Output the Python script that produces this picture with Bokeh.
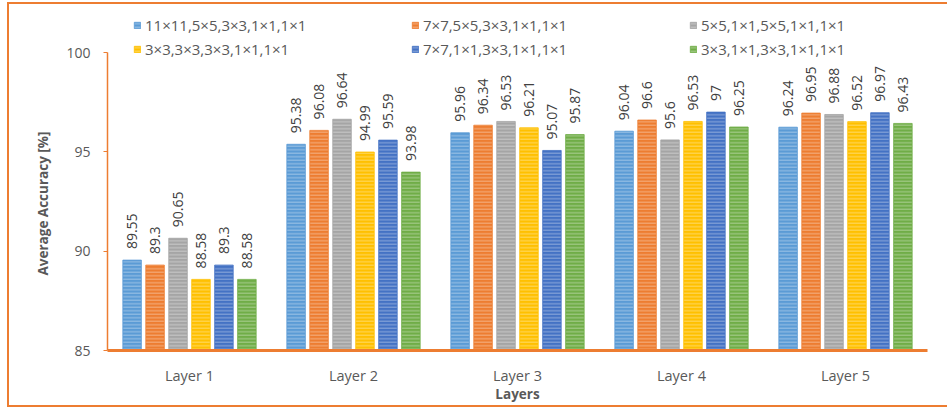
import numpy as np
from bokeh.plotting import figure
from bokeh.models import (ColumnDataSource, Range1d, FactorRange, Legend, LegendItem,
                          FixedTicker, Title)
from bokeh.transform import dodge
from bokeh.embed import file_html
from bokeh.resources import INLINE
from bokeh.core.properties import value

# Categories and series
layers = ["Layer 1", "Layer 2", "Layer 3", "Layer 4", "Layer 5"]
configs = [
    "11×11,5×5,3×3,1×1,1×1",
    "7×7,5×5,3×3,1×1,1×1",
    "5×5,1×1,5×5,1×1,1×1",
    "3×3,3×3,3×3,1×1,1×1",
    "7×7,1×1,3×3,1×1,1×1",
    "3×3,1×1,3×3,1×1,1×1",
]
acc_k11_5_3 = [89.55, 95.38, 95.96, 96.04, 96.24]
acc_k7_5_3 = [89.3, 96.08, 96.34, 96.6, 96.95]
acc_k5_1_5 = [90.65, 96.64, 96.53, 95.6, 96.88]
acc_k3_3_3 = [88.58, 94.99, 96.21, 96.53, 96.52]
acc_k7_1_3 = [89.3, 95.59, 95.07, 97, 96.97]
acc_k3_1_3 = [88.58, 93.98, 95.87, 96.25, 96.43]
y_ticks = [85, 90, 95, 100]

series = [acc_k11_5_3, acc_k7_5_3, acc_k5_1_5, acc_k3_3_3, acc_k7_1_3, acc_k3_1_3]
colors = ["#5B9BD5", "#ED7D31", "#A5A5A5", "#FFC000", "#4472C4", "#70AD47"]

FONT = "Open Sans"
ORANGE = "#ED7D31"
GREY_TXT = "#595959"

data = {"layer": layers}
for i, s in enumerate(series):
    data[f"s{i}"] = s
    data[f"l{i}"] = [f"{v:g}" for v in s]
src = ColumnDataSource(data)

# the frame reaches above 100 so the legend sits inside it; the axis stops at 100
y_top = 85 + 15 * 342 / 298

# orange chart border drawn as CSS background lines behind a transparent canvas
chart_border = {
    "background-color": "white",
    "background-image": ", ".join([f"linear-gradient({ORANGE}, {ORANGE})"] * 3),
    "background-position": "7px 2px, 7px 2px, 7px 405px",
    "background-size": "2px 405px, 940px 2px, 940px 2px",
    "background-repeat": "no-repeat",
}

p = figure(x_range=FactorRange(*layers, range_padding=0), y_range=Range1d(85, y_top),
           width=947, height=408, output_backend="svg", toolbar_location=None,
           min_border_left=107, min_border_right=20, min_border_top=8, min_border_bottom=58,
           styles=chart_border)
p.border_fill_color = None
p.background_fill_color = None
p.outline_line_color = None
p.xgrid.grid_line_color = None
p.ygrid.grid_line_color = None

pitch = 0.14
bar_w = 0.113
items = []
for i, c in enumerate(colors):
    off = (i - 2.5) * pitch
    r = p.vbar(x=dodge("layer", off, range=p.x_range), top=f"s{i}", bottom=85, width=bar_w,
               source=src, fill_color=c, line_color=c, line_width=0.8,
               hatch_pattern="horizontal_line", hatch_color="white", hatch_alpha=0.4,
               hatch_scale=3.5, hatch_weight=1)
    p.text(x=dodge("layer", off, range=p.x_range), y=f"s{i}", text=f"l{i}", angle=np.pi / 2,
           text_align="left", text_baseline="middle", y_offset=-11, source=src,
           text_font=value(FONT), text_font_size="14px", text_color="#404040")
    items.append(LegendItem(label=configs[i], renderers=[r]))

legend = Legend(items=items, location=(26, 291), orientation="horizontal", ncols=3,
                glyph_width=8, glyph_height=8, label_standoff=4, label_width=262,
                label_height=20, spacing=4, padding=0, margin=0,
                border_line_color=None, background_fill_alpha=0,
                label_text_font=FONT, label_text_font_size="15px", label_text_color=GREY_TXT)
p.add_layout(legend, "center")

# y axis
p.yaxis.bounds = (85, 100)
p.yaxis.ticker = FixedTicker(ticks=y_ticks)
p.yaxis.axis_line_color = ORANGE
p.yaxis.axis_line_width = 1.5
p.yaxis.major_tick_line_color = ORANGE
p.yaxis.major_tick_out = 4
p.yaxis.major_tick_in = 0
p.yaxis.minor_tick_line_color = None
p.yaxis.major_label_standoff = 13
p.yaxis.major_label_text_font = FONT
p.yaxis.major_label_text_font_size = "14px"
p.yaxis.major_label_text_color = GREY_TXT

# y axis title, placed along the 85-100 span (offset measured up from the frame bottom)
p.add_layout(Title(text="Average Accuracy [%]", align="left", offset=75, standoff=24,
                   text_font=FONT, text_font_size="13.5px", text_font_style="bold",
                   text_color=GREY_TXT), "left")

# x axis
p.xaxis.axis_line_color = ORANGE
p.xaxis.axis_line_width = 3
p.xaxis.major_tick_line_color = None
p.xaxis.minor_tick_line_color = None
p.xaxis.major_label_standoff = 9
p.xaxis.major_label_text_font = FONT
p.xaxis.major_label_text_font_size = "14.5px"
p.xaxis.major_label_text_color = GREY_TXT
p.xaxis.axis_label = "Layers"
p.xaxis.axis_label_standoff = -3
p.xaxis.axis_label_text_font = FONT
p.xaxis.axis_label_text_font_size = "13.5px"
p.xaxis.axis_label_text_font_style = "bold"
p.xaxis.axis_label_text_color = GREY_TXT

open("out.html", "w").write(file_html(p, INLINE))
